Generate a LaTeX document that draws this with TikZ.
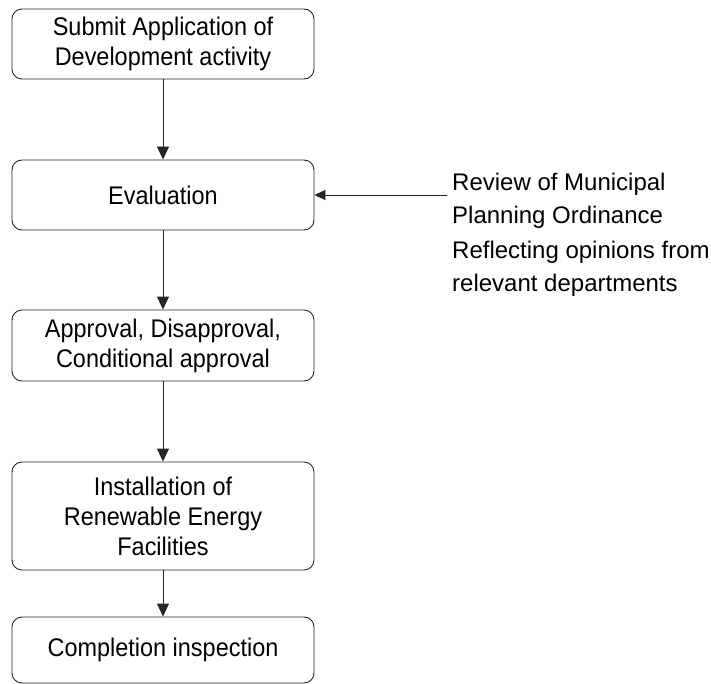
\documentclass[tikz,border=0pt]{standalone}
\usepackage{fontspec}
\setmainfont{Liberation Sans}
\newfontfamily\boxfont[FakeStretch=0.92]{Liberation Sans}
\usetikzlibrary{arrows.meta}
\begin{document}
\begin{tikzpicture}[x=1pt,y=-1pt,
  stepbox/.style={draw=black!85, line width=0.9pt, rounded corners=10pt,
    minimum width=302pt, align=center, inner sep=0pt,
    font=\boxfont\fontsize{25.5}{30}\selectfont, text=black},
  note/.style={align=left, anchor=west, inner sep=0pt,
    font=\fontsize{24}{33}\selectfont, text=black},
  flow/.style={draw=black!85, line width=0.9pt,
    -{Triangle[length=13pt,width=12pt]}},
  side/.style={draw=black!85, line width=0.9pt,
    -{Triangle[length=11pt,width=10pt]}}]
  \useasboundingbox (0,0) rectangle (711,684);

  % main process chain
  \node[stepbox, minimum height=70pt] (submit) at (163,44)
    {Submit Application of\\Development activity};
  \node[stepbox, minimum height=70pt] (eval) at (163,195) {Evaluation};
  \node[stepbox, minimum height=71pt] (decide) at (163,345.5)
    {Approval, Disapproval,\\Conditional approval};
  \node[stepbox, minimum height=108pt] (install) at (163,516)
    {Installation of\\Renewable Energy\\Facilities};
  \node[stepbox, minimum height=66pt] (done) at (163,650)
    {Completion inspection};

  \draw[flow] (submit) -- (eval);
  \draw[flow] (eval) -- (decide);
  \draw[flow] (decide) -- (install);
  \draw[flow] (install) -- (done);

  % inputs to the evaluation step
  \node[note] (review) at (452,201)
    {Review of Municipal\\Planning Ordinance};
  \node[note] (opinions) at (452,269)
    {Reflecting opinions from\\relevant departments};
  \coordinate (feed) at (447,195);
  \draw[side] (feed) -- (eval.east);
\end{tikzpicture}
\end{document}
